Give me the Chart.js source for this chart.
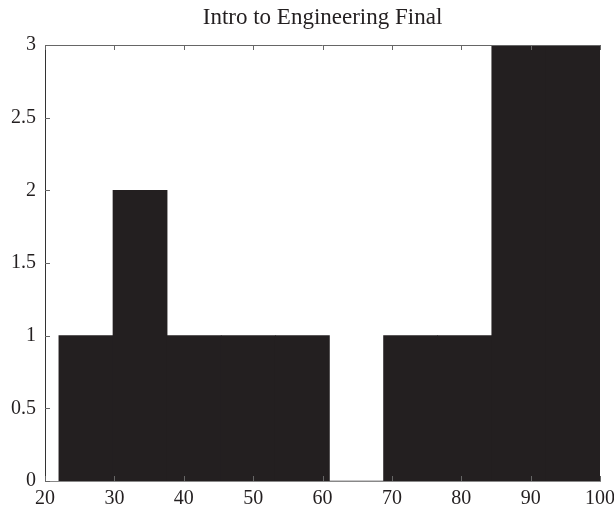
<!DOCTYPE html>
<html>
<head>
<meta charset="utf-8">
<script src="https://cdn.jsdelivr.net/npm/chart.js@4"></script>
<style>
  html, body { margin: 0; padding: 0; background: #fff; }
  #wrap { width: 614px; height: 507px; }
</style>
</head>
<body>
<div id="wrap"><canvas id="c" width="614" height="507"></canvas></div>
<script>
const chartTitle = 'Intro to Engineering Final';
const binCenters = [25.9, 33.7, 41.5, 49.3, 57.1, 64.9, 72.7, 80.5, 88.3, 96.1];
const counts = [1, 2, 1, 1, 1, 0, 1, 1, 3, 3];
const xTicks = [20, 30, 40, 50, 60, 70, 80, 90, 100];
const yTicks = [0, 0.5, 1, 1.5, 2, 2.5, 3];

const FONT = "'Liberation Serif', 'DejaVu Serif', serif";

const boxTicks = {
  id: 'boxTicks',
  afterDatasetsDraw(chart) {
    const { ctx, chartArea: a, scales: { x, y } } = chart;
    ctx.save();
    ctx.lineWidth = 1;
    ctx.strokeStyle = '#666';
    ctx.beginPath();
    ctx.moveTo(a.left, a.top + 0.5);
    ctx.lineTo(a.right, a.top + 0.5);
    xTicks.forEach(v => {
      const px = Math.round(x.getPixelForValue(v)) + 0.5;
      ctx.moveTo(px, a.top);
      ctx.lineTo(px, a.top + 5);
      ctx.moveTo(px, a.bottom);
      ctx.lineTo(px, a.bottom - 5);
    });
    yTicks.forEach(v => {
      const py = Math.round(y.getPixelForValue(v)) + 0.5;
      ctx.moveTo(a.left, py);
      ctx.lineTo(a.left + 5, py);
    });
    ctx.stroke();
    ctx.restore();
  }
};

new Chart(document.getElementById('c'), {
  type: 'bar',
  data: {
    datasets: [{
      data: binCenters.map((c, i) => ({ x: c, y: counts[i] })),
      backgroundColor: '#231f20',
      borderWidth: 0,
      barPercentage: 1,
      categoryPercentage: 1
    }]
  },
  options: {
    responsive: false,
    animation: false,
    layout: { padding: { top: 0, right: 14, left: 0, bottom: 0 } },
    plugins: {
      legend: { display: false },
      tooltip: { enabled: false },
      title: {
        display: true,
        text: chartTitle,
        fullSize: false,
        color: '#231f20',
        font: { family: FONT, size: 23, weight: 'normal' },
        padding: { top: 4, bottom: 13.4 }
      }
    },
    scales: {
      x: {
        type: 'linear',
        offset: false,
        min: 20, max: 100,
        afterFit: s => { s.height = 26; s.paddingLeft = 0; s.paddingRight = 0; },
        afterBuildTicks: s => { s.ticks = xTicks.map(v => ({ value: v })); },
        grid: { display: false, drawTicks: false, offset: false },
        border: { display: true, color: '#888', width: 1 },
        ticks: { color: '#231f20', padding: 6, maxRotation: 0, autoSkip: false,
                 font: { family: FONT, size: 20 },
                 callback: v => String(v) }
      },
      y: {
        min: 0, max: 3,
        afterFit: s => { s.width = 45; s.paddingTop = 0; s.paddingBottom = 0; },
        afterBuildTicks: s => { s.ticks = yTicks.map(v => ({ value: v })); },
        grid: { display: false, drawTicks: false },
        border: { display: true, color: '#333', width: 1 },
        ticks: { color: '#231f20', padding: 9, autoSkip: false,
                 font: { family: FONT, size: 20 },
                 callback: v => String(v) }
      }
    }
  },
  plugins: [boxTicks]
});
</script>
</body>
</html>
